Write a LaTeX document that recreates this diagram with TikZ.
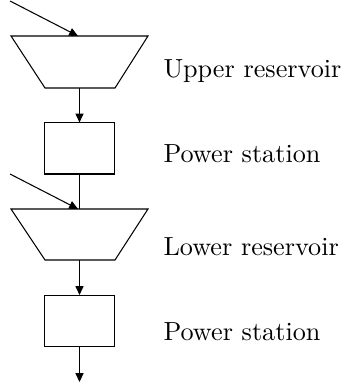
\documentclass[tikz,border=0pt]{standalone}
\usetikzlibrary{arrows.meta}
\tikzset{
  px/.style={x=0.382pt,y=-0.382pt},
  line/.style={draw=black,line width=0.4pt},
  flow/.style={line,-{Triangle[length=3.4pt,width=3.1pt]}},
  station/.style={draw=black,line width=0.4pt,rectangle,inner sep=0pt,minimum width=26.7pt,minimum height=19.5pt},
  lbl/.style={inner sep=0pt,anchor=base west,font=\normalsize}
}
\begin{document}
\begin{tikzpicture}[px]
\useasboundingbox (0,0) rectangle (344,385);
% upper reservoir
\coordinate (urtop) at (79.5,36);
\coordinate (urbot) at (79.5,88);
\draw[line] (11,36) -- (148,36) -- (115,88) -- (45,88) -- cycle;
\coordinate (in1) at (10,1);
\draw[flow] (in1) -- (78,36);
% power station 1
\node[station] (ps1) at (79.5,148.5) {};
\draw[flow] (urbot) -- (ps1.north);
% lower reservoir
\coordinate (lrtop) at (79.5,209);
\coordinate (lrbot) at (79.5,260);
\draw[line] (11,209) -- (148,209) -- (115,260) -- (45,260) -- cycle;
\draw[line] (ps1.south) -- (lrtop);
\coordinate (in2) at (10,174);
\draw[flow] (in2) -- (78,209);
% power station 2
\node[station] (ps2) at (79.5,321) {};
\draw[flow] (lrbot) -- (ps2.north);
\coordinate (out) at (79.5,382);
\draw[flow] (ps2.south) -- (out);
% labels
\node[lbl] (l1) at (163,78) {Upper reservoir};
\node[lbl] (l2) at (163,163) {Power station};
\node[lbl] (l3) at (163,255) {Lower reservoir};
\node[lbl] (l4) at (163,340) {Power station};
\end{tikzpicture}
\end{document}
